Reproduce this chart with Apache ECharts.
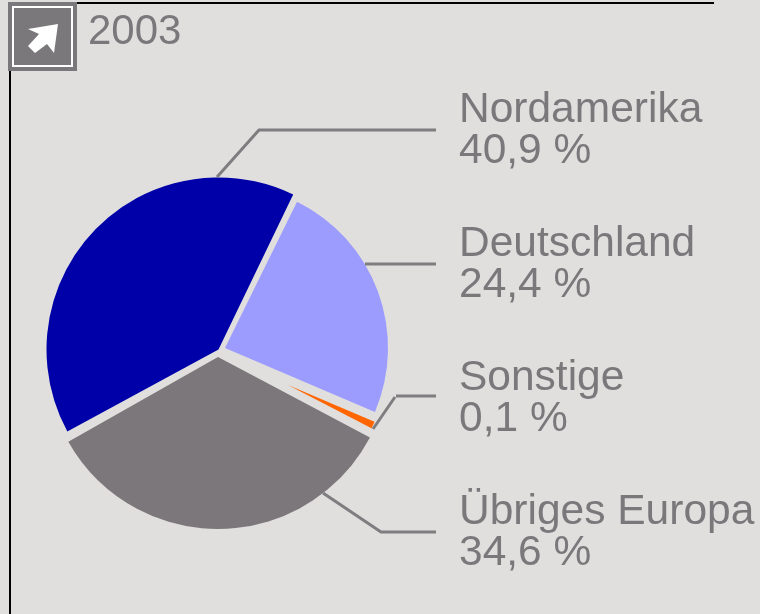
<!DOCTYPE html>
<html><head><meta charset="utf-8">
<style>html,body{margin:0;padding:0;background:#e0dfde}#c{width:760px;height:614px}</style>
<script src="https://cdn.jsdelivr.net/npm/echarts@6/dist/echarts.min.js"></script>
</head><body><div id="c"></div>
<script>
const title = '2003';
const categories = ['Nordamerika', 'Deutschland', 'Sonstige', 'Übriges Europa'];
const shares = [40.9, 24.4, 0.1, 34.6];
const shareLabels = ['40,9 %', '24,4 %', '0,1 %', '34,6 %'];
const colors = ['#0000a8', '#9c9cff', '#ff6600', '#7b777b'];

const TEXT = '#7b787b', LINE = '#7f7d7f';
const FONT = '"Liberation Sans", Arial, sans-serif';
const baseAngle = 239.5;
const geom = [
  {center: [218.5, 349.5], r: 172, labelY: 90, pad: 3, nudge: 0.5},
  {center: [225, 348], r: 163, labelY: 224, pad: 1, nudge: -1},
  {center: [288, 385], r: 94, labelY: 358, pad: 0, nudge: 0, minAngle: 4.3, mid: 115.2},
  {center: [218, 357], r: 172, labelY: 492, pad: 2, nudge: 2}
];
const leaders = [
  [[217, 177], [259, 130], [436, 130]],
  [[365, 264], [436, 264]],
  [[373, 429], [395, 397]],
  [[323, 493], [381, 532], [436, 532]],
  [[396, 396], [436, 396]]
];

let cum = 0;
const total = shares.reduce((a, b) => a + b, 0);
const series = categories.map((name, i) => {
  const g = geom[i];
  let theta = baseAngle + cum / total * 360 + g.nudge;
  cum += shares[i];
  if (g.mid !== undefined) theta = g.mid - g.minAngle / 2;
  return {
    type: 'pie', silent: true, animation: false,
    center: g.center, radius: [0, g.r],
    startAngle: 90 - theta, minAngle: g.minAngle || 0, padAngle: g.pad,
    avoidLabelOverlap: false, clockwise: true,
    labelLine: {show: false},
    labelLayout: {x: 459, y: g.labelY, align: 'left', verticalAlign: 'top'},
    label: {show: false},
    data: [
      {name, value: shares[i], itemStyle: {color: colors[i]},
       label: {show: true, position: 'outside', formatter: name + '\n' + shareLabels[i],
         color: TEXT, fontFamily: FONT, fontSize: 42.5, lineHeight: 41, align: 'left'}},
      {name: '', value: total - shares[i], itemStyle: {color: 'transparent'}, label: {show: false}}
    ]
  };
});

const chart = echarts.init(document.getElementById('c'), null, {renderer: 'canvas'});
chart.setOption({
  backgroundColor: '#e0dfde',
  animation: false,
  series,
  graphic: [
    {type: 'line', z: 1, shape: {x1: 10, y1: 3, x2: 714, y2: 3}, style: {stroke: '#000', lineWidth: 2}},
    {type: 'line', z: 1, shape: {x1: 10, y1: 3, x2: 10, y2: 614}, style: {stroke: '#000', lineWidth: 2}},
    {type: 'rect', z: 5, shape: {x: 8, y: 2, width: 69, height: 69}, style: {fill: '#7b787b'}},
    {type: 'rect', z: 6, shape: {x: 13, y: 7, width: 59, height: 59}, style: {fill: 'none', stroke: '#fff', lineWidth: 2}},
    {type: 'polygon', z: 7, shape: {points: [[58, 24], [54, 53], [47, 44], [35, 53], [28, 46], [39, 34], [28, 29]]}, style: {fill: '#fff'}},
    {type: 'text', z: 7, style: {text: title, x: 88, y: 11, fill: TEXT, font: '42px ' + FONT}},
    ...leaders.map(points => ({type: 'polyline', z: 3, shape: {points}, style: {stroke: LINE, lineWidth: 3, fill: 'none'}}))
  ]
});
</script></body></html>
